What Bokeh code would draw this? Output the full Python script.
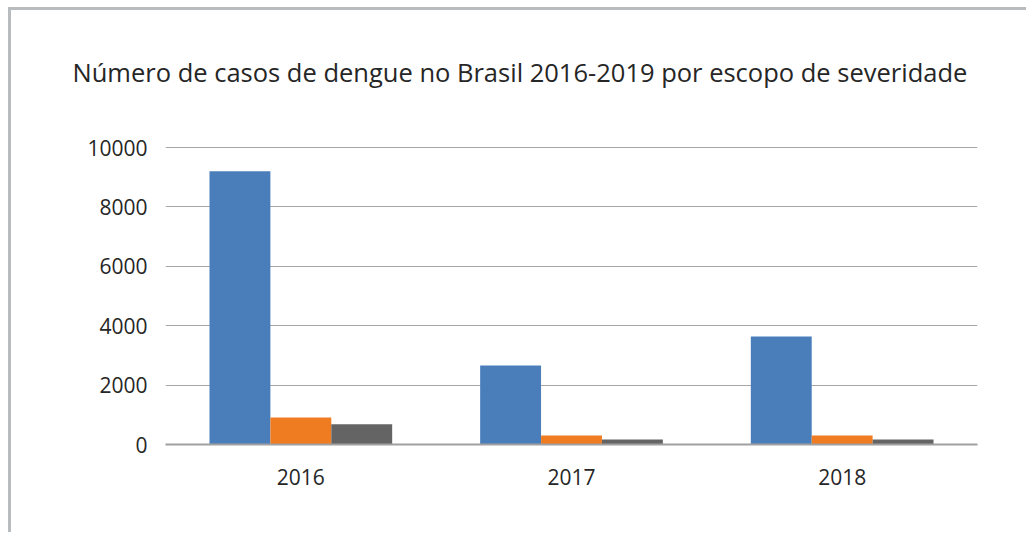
from bokeh.plotting import figure
from bokeh.models import FactorRange, Range1d, ColumnDataSource, FixedTicker
from bokeh.transform import dodge
from bokeh.embed import file_html
from bokeh.resources import INLINE

# ---- data ----
years = ["2016", "2017", "2018"]
dengue = [9200, 2660, 3640]
dengue_alarme = [910, 300, 300]
dengue_grave = [680, 170, 170]
y_ticks = [0, 2000, 4000, 6000, 8000, 10000]
title_text = "Número de casos de dengue no Brasil 2016-2019 por escopo de severidade"

source = ColumnDataSource(dict(years=years, dengue=dengue,
                               alarme=dengue_alarme, grave=dengue_grave))

FONT = "Open Sans"

p = figure(width=1018, height=525, x_range=FactorRange(*years),
           y_range=Range1d(0, 10640), output_backend="svg",
           toolbar_location=None, title=title_text,
           min_border_left=154, min_border_right=52,
           min_border_bottom=91, min_border_top=118)

p.border_fill_color = "white"
p.background_fill_color = "white"
# chart-area border: grey line along the top and left of the chart panel
p.styles = {"margin-left": "11px", "margin-top": "10px",
            "box-shadow": "-3px -3px 0 0 #b9bcbf"}

bw = 0.225
p.vbar(x=dodge("years", -bw, range=p.x_range), top="dengue", width=bw,
       source=source, fill_color="#4a7ebb", line_color=None)
p.vbar(x=dodge("years", 0.0, range=p.x_range), top="alarme", width=bw,
       source=source, fill_color="#f07c22", line_color=None)
p.vbar(x=dodge("years", bw, range=p.x_range), top="grave", width=bw,
       source=source, fill_color="#646464", line_color=None)

p.title.text_font = FONT
p.title.text_font_size = "25.5px"
p.title.text_font_style = "normal"
p.title.text_color = "#262626"
p.title.align = "left"
p.title.offset = -93
p.title.standoff = 80

p.yaxis.ticker = FixedTicker(ticks=y_ticks)
p.yaxis.axis_line_color = None
p.yaxis.major_tick_line_color = None
p.yaxis.minor_tick_line_color = None
p.yaxis.major_label_standoff = 12
p.yaxis.major_label_text_font = FONT
p.yaxis.major_label_text_font_size = "21px"
p.yaxis.major_label_text_color = "#262626"

p.xaxis.axis_line_color = "#a0a0a0"
p.xaxis.axis_line_width = 2
p.xaxis.major_tick_line_color = None
p.xaxis.minor_tick_line_color = None
p.xaxis.major_label_standoff = 18
p.xaxis.major_label_text_font = FONT
p.xaxis.major_label_text_font_size = "21px"
p.xaxis.major_label_text_color = "#262626"

p.xgrid.grid_line_color = None
p.ygrid.grid_line_color = "#a6a6a6"
p.ygrid.grid_line_width = 1

p.outline_line_color = None

open("out.html", "w").write(file_html(p, INLINE))
